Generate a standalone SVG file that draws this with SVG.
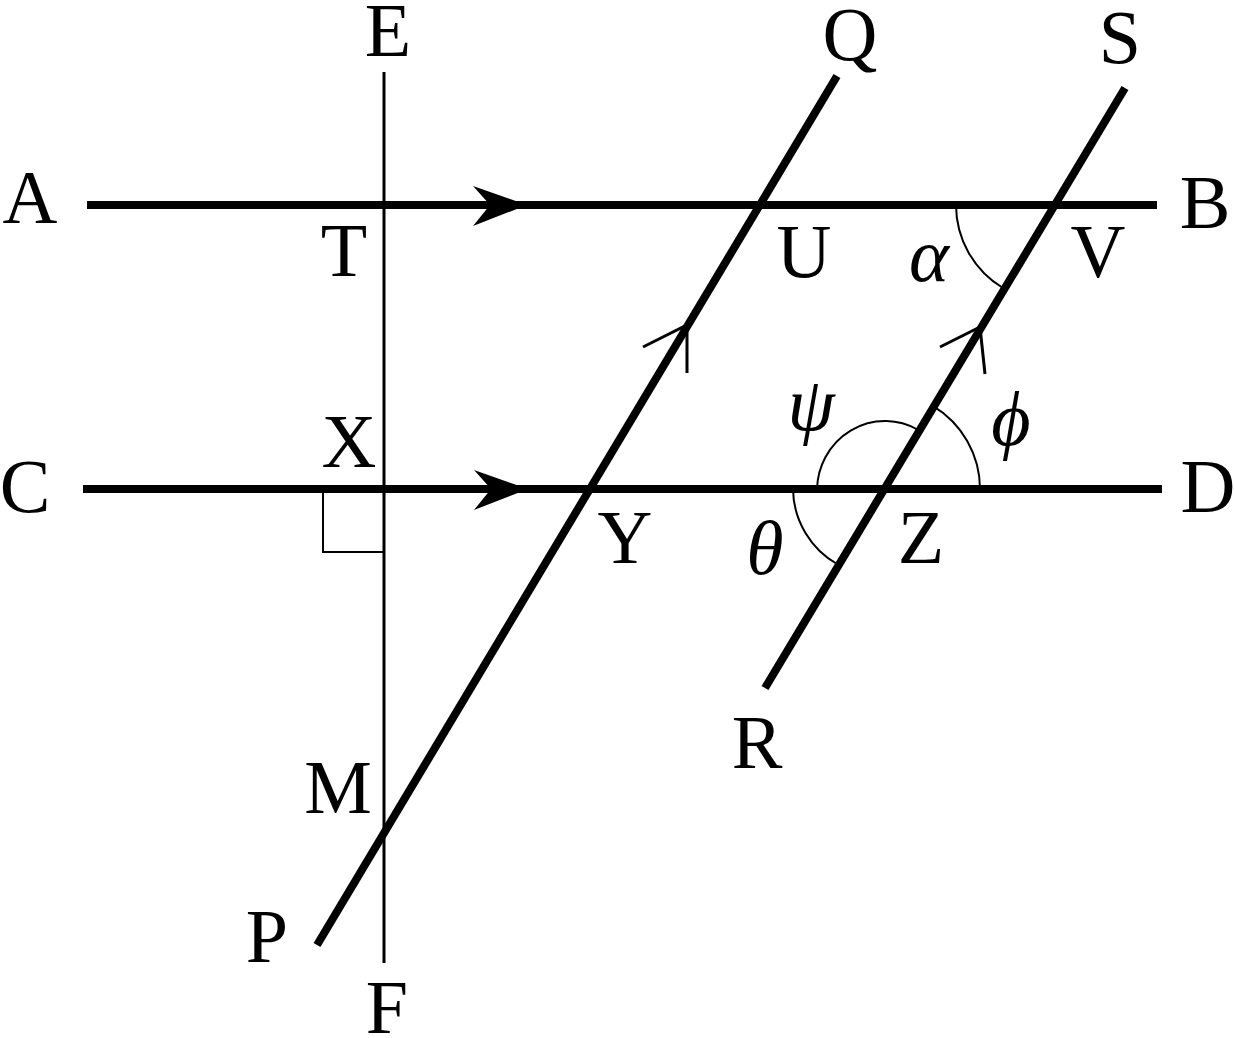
<svg xmlns="http://www.w3.org/2000/svg" width="1234" height="1038" viewBox="0 0 1234 1038">
<style>
.thick{stroke:#000;stroke-width:8;fill:none;stroke-linecap:butt}
.thin{stroke:#000;stroke-width:3;fill:none}
.arc{stroke:#000;stroke-width:2;fill:none}
.lbl{font-family:"Liberation Serif","Times New Roman",serif;font-size:76px;fill:#000;text-anchor:middle}
.gr{font-family:"Liberation Serif","DejaVu Serif",serif;font-style:italic;font-size:76px;fill:#000;text-anchor:middle}
</style>
<defs>
<path id="farrow" d="M527,0 L473,-19 L490,0 L473,21 Z" fill="#000"/>
</defs>
<rect width="1234" height="1038" fill="#fff"/>
<g id="connectors">
<line id="AB" class="thick" x1="87" y1="205" x2="1157" y2="205"/>
<line id="CD" class="thick" x1="83" y1="489" x2="1162" y2="489"/>
<line id="EF" class="thin" x1="384" y1="72" x2="384" y2="963"/>
<line id="PQ" class="thick" x1="317" y1="945" x2="837" y2="76"/>
<line id="RS" class="thick" x1="765" y1="688" x2="1125" y2="88"/>
<use href="#farrow" transform="translate(0,205)"/>
<use href="#farrow" transform="translate(1,489)"/>
<polyline class="thin" points="643,347 687,325 687,373"/>
<polyline class="thin" points="940,347 980,327 985,374"/>
<polyline class="arc" points="323,489 323,552 384,552"/>
<path class="arc" d="M956,205 A97,97 0 0 0 1003,288"/>
<path class="arc" d="M817,489 A68,70 0 0 1 917.4,429.5"/>
<path class="arc" d="M932.8,405.8 A97,97 0 0 1 980,489"/>
<path class="arc" d="M793,489 A88,88 0 0 0 837.8,564.5"/>
</g>
<g id="labels">
<g id="node-A"><text class="lbl" x="30" y="223">A</text></g>
<g id="node-B"><text class="lbl" x="1205" y="228">B</text></g>
<g id="node-C"><text class="lbl" x="25" y="512">C</text></g>
<g id="node-D"><text class="lbl" x="1208" y="512">D</text></g>
<g id="node-E"><text class="lbl" x="388" y="56">E</text></g>
<g id="node-F"><text class="lbl" x="387" y="1033">F</text></g>
<g id="node-P"><text class="lbl" x="267" y="962">P</text></g>
<g id="node-Q"><text class="lbl" x="850" y="60">Q</text></g>
<g id="node-R"><text class="lbl" x="757" y="768">R</text></g>
<g id="node-S"><text class="lbl" x="1120" y="63">S</text></g>
<g id="node-T"><text class="lbl" x="344" y="276">T</text></g>
<g id="node-U"><text class="lbl" x="804" y="277">U</text></g>
<g id="node-V"><text class="lbl" x="1098" y="277">V</text></g>
<g id="node-X"><text class="lbl" x="349" y="467">X</text></g>
<g id="node-Y"><text class="lbl" x="625" y="563">Y</text></g>
<g id="node-Z"><text class="lbl" x="921" y="563">Z</text></g>
<g id="node-M"><text class="lbl" x="338" y="813">M</text></g>
<g id="angle-alpha"><text class="gr" x="929" y="281">α</text></g>
<g id="angle-psi"><text class="gr" x="811" y="430">ψ</text></g>
<g id="angle-phi"><text class="gr" x="1011" y="445">ϕ</text></g>
<g id="angle-theta"><text class="gr" x="765" y="574">θ</text></g>
</g>
</svg>
